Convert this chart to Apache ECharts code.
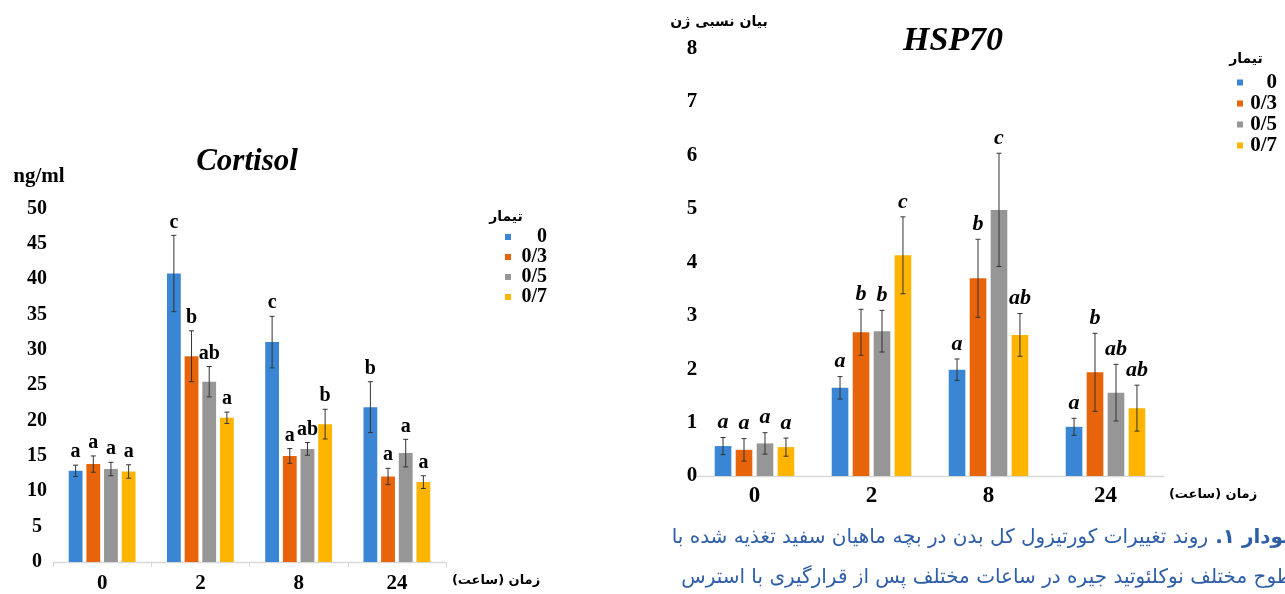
<!DOCTYPE html>
<html><head><meta charset="utf-8">
<script src="https://cdn.jsdelivr.net/npm/echarts@6/dist/echarts.min.js"></script>
<style>html,body{margin:0;padding:0;background:#fff}#c{width:1285px;height:594px}</style>
</head><body><div id="c" dir="rtl"></div>
<script>
// ---- data ----
const categories = ['0', '2', '8', '24'];
const treatments = ['0', '0/3', '0/5', '0/7'];
const colors = ['#3a86d4', '#e8640a', '#969696', '#ffb400'];

// Cortisol (ng/ml)
const cortisol_0  = [12.9, 40.8, 31.1, 21.9];
const cortisol_03 = [13.85, 29.1, 15.0, 12.1];
const cortisol_05 = [13.15, 25.5, 16.0, 15.4];
const cortisol_07 = [12.8, 20.4, 19.5, 11.3];
const cortisolErr_0  = [0.8, 5.4, 3.65, 3.6];
const cortisolErr_03 = [1.15, 3.6, 1.05, 1.15];
const cortisolErr_05 = [0.95, 2.15, 0.9, 1.95];
const cortisolErr_07 = [0.95, 0.8, 2.1, 0.9];
const cortisolLetters_0  = ['a', 'c', 'c', 'b'];
const cortisolLetters_03 = ['a', 'b', 'a', 'a'];
const cortisolLetters_05 = ['a', 'ab', 'ab', 'a'];
const cortisolLetters_07 = ['a', 'a', 'b', 'a'];

// HSP70 relative expression
const hsp_0  = [0.56, 1.65, 1.99, 0.92];
const hsp_03 = [0.49, 2.69, 3.70, 1.94];
const hsp_05 = [0.61, 2.71, 4.98, 1.56];
const hsp_07 = [0.54, 4.13, 2.64, 1.27];
const hspErr_0  = [0.16, 0.21, 0.20, 0.16];
const hspErr_03 = [0.21, 0.43, 0.73, 0.73];
const hspErr_05 = [0.20, 0.39, 1.06, 0.53];
const hspErr_07 = [0.17, 0.72, 0.40, 0.43];
const hspLetters_0  = ['a', 'a', 'a', 'a'];
const hspLetters_03 = ['a', 'b', 'b', 'b'];
const hspLetters_05 = ['a', 'b', 'c', 'ab'];
const hspLetters_07 = ['a', 'c', 'ab', 'ab'];

const cortisolTicks = { min: 0, max: 50, interval: 5 };
const hspTicks = { min: 0, max: 8, interval: 1 };

// ---- build ----
const SERIF = '"Liberation Serif", "Times New Roman", serif';
const FA = '"DejaVu Sans", sans-serif';
const CAPTION = '#2f5ea8';
const charts = [
  { vals: [cortisol_0, cortisol_03, cortisol_05, cortisol_07],
    errs: [cortisolErr_0, cortisolErr_03, cortisolErr_05, cortisolErr_07],
    letters: [cortisolLetters_0, cortisolLetters_03, cortisolLetters_05, cortisolLetters_07],
    catGap: 0.32, barGap: 0.28, letterGap: 3, letterFont: { fontSize: 20, fontStyle: 'normal' } },
  { vals: [hsp_0, hsp_03, hsp_05, hsp_07],
    errs: [hspErr_0, hspErr_03, hspErr_05, hspErr_07],
    letters: [hspLetters_0, hspLetters_03, hspLetters_05, hspLetters_07],
    catGap: 0.32, barGap: 0.26, letterGap: 4, letterFont: { fontSize: 22, fontStyle: 'italic' } }
];

function makeRender(ch, sIdx) {
  return function (params, api) {
    const j = api.value(0), v = api.value(1), e = api.value(2);
    const band = api.size([1, 0])[0];
    const n = treatments.length;
    const inner = band * (1 - ch.catGap);
    const bw = inner / (n + (n - 1) * ch.barGap);
    const x = api.coord([j, v])[0] - inner / 2 + sIdx * bw * (1 + ch.barGap) + bw / 2;
    const yt = api.coord([j, v + e])[1];
    const yb = api.coord([j, v - e])[1];
    const cap = 2.5;
    const st = { stroke: '#333', lineWidth: 1 };
    return {
      type: 'group',
      children: [
        { type: 'line', shape: { x1: x, y1: yt, x2: x, y2: yb }, style: st },
        { type: 'line', shape: { x1: x - cap, y1: yt, x2: x + cap, y2: yt }, style: st },
        { type: 'line', shape: { x1: x - cap, y1: yb, x2: x + cap, y2: yb }, style: st },
        { type: 'text', style: {
            text: ch.letters[sIdx][params.dataIndex], x: x, y: yt - ch.letterGap,
            align: 'center', verticalAlign: 'bottom',
            fontFamily: SERIF, fontWeight: 'bold',
            fontSize: ch.letterFont.fontSize, fontStyle: ch.letterFont.fontStyle, fill: '#000' } }
      ]
    };
  };
}

const series = [];
charts.forEach((ch, ci) => {
  treatments.forEach((t, si) => {
    series.push({
      type: 'bar', name: t, xAxisIndex: ci, yAxisIndex: ci,
      data: ch.vals[si], itemStyle: { color: colors[si] },
      barCategoryGap: (ch.catGap * 100) + '%', barGap: (ch.barGap * 100) + '%',
      emphasis: { disabled: true }
    });
  });
});
charts.forEach((ch, ci) => {
  treatments.forEach((t, si) => {
    series.push({
      type: 'custom', name: t, xAxisIndex: ci, yAxisIndex: ci, z: 5,
      itemStyle: { color: colors[si] },
      renderItem: makeRender(ch, si),
      encode: { x: 0, y: 1 },
      data: categories.map((c, j) => [j, ch.vals[si][j], ch.errs[si][j]]),
      silent: true
    });
  });
});

function legendCfg(left, top, lh, w, fs) {
  return {
    data: treatments, orient: 'vertical', left: left, top: top, padding: 0,
    icon: 'rect', itemWidth: 6, itemHeight: 6, itemGap: 0,
    formatter: n => '{t|' + n + '}',
    textStyle: { rich: { t: { width: w, align: 'right', fontSize: fs, fontWeight: 'bold',
      fontFamily: SERIF, color: '#000', lineHeight: lh } } }
  };
}

const catLabel = (fs, margin) => ({ fontFamily: SERIF, fontWeight: 'bold', fontSize: fs, color: '#000', margin: margin });

const option = {
  backgroundColor: '#fff',
  animation: false,
  grid: [
    { left: 53, top: 208.5, width: 393, height: 359.5 },
    { left: 696, top: 48.5, width: 468, height: 427.5 }
  ],
  xAxis: [
    { type: 'category', gridIndex: 0, data: categories,
      axisLine: { lineStyle: { color: '#d9d9d9', width: 1.3 } },
      axisTick: { show: true, length: 5, lineStyle: { color: '#d9d9d9' } },
      axisLabel: catLabel(21, 11) },
    { type: 'category', gridIndex: 1, data: categories,
      axisLine: { lineStyle: { color: '#d9d9d9', width: 1.3 } },
      axisTick: { show: false },
      axisLabel: catLabel(23, 9) }
  ],
  yAxis: [
    { type: 'value', gridIndex: 0, min: cortisolTicks.min, max: cortisolTicks.max, interval: cortisolTicks.interval,
      axisLine: { show: false }, axisTick: { show: false }, splitLine: { show: false },
      axisLabel: { fontFamily: SERIF, fontWeight: 'bold', fontSize: 20, color: '#000', align: 'center', margin: 16 } },
    { type: 'value', gridIndex: 1, min: hspTicks.min, max: hspTicks.max, interval: hspTicks.interval,
      axisLine: { show: false }, axisTick: { show: false }, splitLine: { show: false },
      axisLabel: { fontFamily: SERIF, fontWeight: 'bold', fontSize: 21, color: '#000', align: 'center', margin: 4 } }
  ],
  legend: [
    legendCfg(505, 227, 21, 31, 20),
    legendCfg(1237, 72, 21.3, 29, 21)
  ],
  graphic: [
    { type: 'text', x: 247, y: 162, style: { text: 'Cortisol', align: 'center', verticalAlign: 'middle',
      font: 'italic bold 31px ' + SERIF, fill: '#000' } },
    { type: 'text', x: 953, y: 41, style: { text: 'HSP70', align: 'center', verticalAlign: 'middle',
      font: 'italic bold 34px ' + SERIF, fill: '#000' } },
    { type: 'text', x: 39, y: 177, style: { text: 'ng/ml', align: 'center', verticalAlign: 'middle',
      font: 'bold 21px ' + SERIF, fill: '#000' } },
    { type: 'text', x: 719, y: 22, style: { text: 'بیان نسبی ژن', align: 'center', verticalAlign: 'middle',
      font: 'bold 14px ' + FA, fill: '#000' } },
    { type: 'text', x: 506, y: 217, style: { text: 'تیمار', align: 'center', verticalAlign: 'middle',
      font: 'bold 14px ' + FA, fill: '#000' } },
    { type: 'text', x: 1246, y: 59, style: { text: 'تیمار', align: 'center', verticalAlign: 'middle',
      font: 'bold 14px ' + FA, fill: '#000' } },
    { type: 'text', x: 496, y: 581, style: { text: 'زمان (ساعت)', align: 'center', verticalAlign: 'middle',
      font: 'bold 13px ' + FA, fill: '#000' } },
    { type: 'text', x: 1213, y: 495, style: { text: 'زمان (ساعت)', align: 'center', verticalAlign: 'middle',
      font: 'bold 13px ' + FA, fill: '#000' } },
    { type: 'text', x: 1304, y: 538, style: {
      text: '{r|روند تغییرات کورتیزول کل بدن در بچه ماهیان سفید تغذیه شده با}{b|نمودار ۱.}',
      align: 'right', verticalAlign: 'middle',
      rich: { r: { fontFamily: FA, fontSize: 20, fill: CAPTION, color: CAPTION },
              b: { fontFamily: FA, fontSize: 20, fontWeight: 'bold', fill: CAPTION, color: CAPTION, padding: [0, 0, 0, 7] } } } },
    { type: 'text', x: 1310, y: 578, style: {
      text: 'سطوح مختلف نوکلئوتید جیره در ساعات مختلف پس از قرارگیری با استرس',
      align: 'right', verticalAlign: 'middle',
      font: '20px ' + FA, fill: CAPTION } }
  ],
  series: series
};

const chart = echarts.init(document.getElementById('c'), null, { renderer: 'canvas' });
chart.setOption(option);
</script>
</body></html>
